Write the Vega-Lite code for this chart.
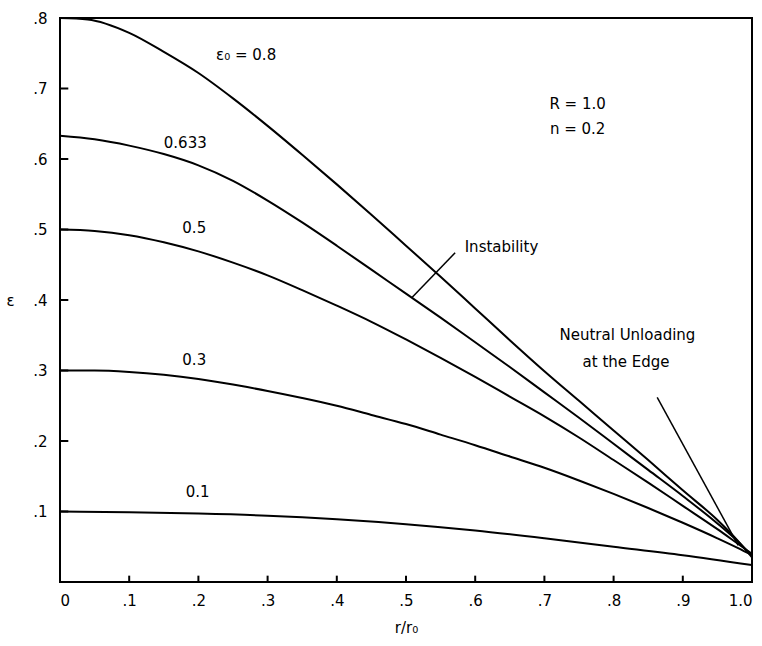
{
  "$schema": "https://vega.github.io/schema/vega-lite/v6.json",
  "width": 692,
  "height": 564,
  "autosize": {"type": "none"},
  "padding": {"left": 60, "top": 18, "right": 10, "bottom": 64},
  "background": "white",
  "config": {
    "view": {"stroke": "black", "strokeWidth": 2},
    "font": "DejaVu Sans",
    "axis": {"grid": false, "domain": false, "ticks": false, "labelColor": "black", "titleColor": "black", "labelFont": "DejaVu Sans", "titleFont": "DejaVu Sans", "labelFontSize": 15, "titleFontSize": 15, "titleFontWeight": "normal"}
  },
  "datasets": {
    "curves": [
      {"curve": "0.8", "x": 0, "y": 0.8}, {"curve": "0.8", "x": 0.04, "y": 0.798}, {"curve": "0.8", "x": 0.1, "y": 0.779}, {"curve": "0.8", "x": 0.15, "y": 0.752}, {"curve": "0.8", "x": 0.2, "y": 0.722}, {"curve": "0.8", "x": 0.25, "y": 0.686}, {"curve": "0.8", "x": 0.3, "y": 0.647}, {"curve": "0.8", "x": 0.35, "y": 0.606}, {"curve": "0.8", "x": 0.4, "y": 0.564}, {"curve": "0.8", "x": 0.45, "y": 0.521}, {"curve": "0.8", "x": 0.5, "y": 0.477}, {"curve": "0.8", "x": 0.55, "y": 0.433}, {"curve": "0.8", "x": 0.6, "y": 0.388}, {"curve": "0.8", "x": 0.65, "y": 0.343}, {"curve": "0.8", "x": 0.7, "y": 0.299}, {"curve": "0.8", "x": 0.75, "y": 0.257}, {"curve": "0.8", "x": 0.8, "y": 0.215}, {"curve": "0.8", "x": 0.85, "y": 0.173}, {"curve": "0.8", "x": 0.9, "y": 0.13}, {"curve": "0.8", "x": 0.95, "y": 0.088}, {"curve": "0.8", "x": 0.98, "y": 0.058}, {"curve": "0.8", "x": 1.0, "y": 0.035},
      {"curve": "0.633", "x": 0, "y": 0.633}, {"curve": "0.633", "x": 0.05, "y": 0.628}, {"curve": "0.633", "x": 0.1, "y": 0.619}, {"curve": "0.633", "x": 0.15, "y": 0.607}, {"curve": "0.633", "x": 0.2, "y": 0.591}, {"curve": "0.633", "x": 0.25, "y": 0.569}, {"curve": "0.633", "x": 0.3, "y": 0.541}, {"curve": "0.633", "x": 0.35, "y": 0.51}, {"curve": "0.633", "x": 0.4, "y": 0.477}, {"curve": "0.633", "x": 0.45, "y": 0.443}, {"curve": "0.633", "x": 0.5, "y": 0.409}, {"curve": "0.633", "x": 0.55, "y": 0.375}, {"curve": "0.633", "x": 0.6, "y": 0.34}, {"curve": "0.633", "x": 0.65, "y": 0.305}, {"curve": "0.633", "x": 0.7, "y": 0.269}, {"curve": "0.633", "x": 0.75, "y": 0.233}, {"curve": "0.633", "x": 0.8, "y": 0.196}, {"curve": "0.633", "x": 0.85, "y": 0.159}, {"curve": "0.633", "x": 0.9, "y": 0.122}, {"curve": "0.633", "x": 0.95, "y": 0.083}, {"curve": "0.633", "x": 0.98, "y": 0.057}, {"curve": "0.633", "x": 1.0, "y": 0.037},
      {"curve": "0.5", "x": 0, "y": 0.5}, {"curve": "0.5", "x": 0.05, "y": 0.498}, {"curve": "0.5", "x": 0.1, "y": 0.492}, {"curve": "0.5", "x": 0.15, "y": 0.482}, {"curve": "0.5", "x": 0.2, "y": 0.469}, {"curve": "0.5", "x": 0.25, "y": 0.453}, {"curve": "0.5", "x": 0.3, "y": 0.435}, {"curve": "0.5", "x": 0.35, "y": 0.414}, {"curve": "0.5", "x": 0.4, "y": 0.392}, {"curve": "0.5", "x": 0.45, "y": 0.369}, {"curve": "0.5", "x": 0.5, "y": 0.344}, {"curve": "0.5", "x": 0.55, "y": 0.318}, {"curve": "0.5", "x": 0.6, "y": 0.291}, {"curve": "0.5", "x": 0.65, "y": 0.263}, {"curve": "0.5", "x": 0.7, "y": 0.235}, {"curve": "0.5", "x": 0.75, "y": 0.205}, {"curve": "0.5", "x": 0.8, "y": 0.173}, {"curve": "0.5", "x": 0.85, "y": 0.141}, {"curve": "0.5", "x": 0.9, "y": 0.108}, {"curve": "0.5", "x": 0.95, "y": 0.075}, {"curve": "0.5", "x": 0.98, "y": 0.054}, {"curve": "0.5", "x": 1.0, "y": 0.04},
      {"curve": "0.3", "x": 0, "y": 0.3}, {"curve": "0.3", "x": 0.05, "y": 0.3}, {"curve": "0.3", "x": 0.1, "y": 0.298}, {"curve": "0.3", "x": 0.15, "y": 0.294}, {"curve": "0.3", "x": 0.2, "y": 0.288}, {"curve": "0.3", "x": 0.25, "y": 0.28}, {"curve": "0.3", "x": 0.3, "y": 0.271}, {"curve": "0.3", "x": 0.35, "y": 0.261}, {"curve": "0.3", "x": 0.4, "y": 0.25}, {"curve": "0.3", "x": 0.45, "y": 0.237}, {"curve": "0.3", "x": 0.5, "y": 0.224}, {"curve": "0.3", "x": 0.55, "y": 0.209}, {"curve": "0.3", "x": 0.6, "y": 0.194}, {"curve": "0.3", "x": 0.65, "y": 0.178}, {"curve": "0.3", "x": 0.7, "y": 0.162}, {"curve": "0.3", "x": 0.75, "y": 0.144}, {"curve": "0.3", "x": 0.8, "y": 0.125}, {"curve": "0.3", "x": 0.85, "y": 0.105}, {"curve": "0.3", "x": 0.9, "y": 0.084}, {"curve": "0.3", "x": 0.95, "y": 0.062}, {"curve": "0.3", "x": 0.98, "y": 0.048}, {"curve": "0.3", "x": 1.0, "y": 0.038},
      {"curve": "0.1", "x": 0, "y": 0.1}, {"curve": "0.1", "x": 0.1, "y": 0.099}, {"curve": "0.1", "x": 0.2, "y": 0.097}, {"curve": "0.1", "x": 0.3, "y": 0.094}, {"curve": "0.1", "x": 0.4, "y": 0.089}, {"curve": "0.1", "x": 0.5, "y": 0.082}, {"curve": "0.1", "x": 0.6, "y": 0.073}, {"curve": "0.1", "x": 0.7, "y": 0.062}, {"curve": "0.1", "x": 0.8, "y": 0.05}, {"curve": "0.1", "x": 0.9, "y": 0.038}, {"curve": "0.1", "x": 1.0, "y": 0.024}
    ],
    "pointers": [
      {"name": "Instability", "x": 0.509, "y": 0.404}, {"name": "Instability", "x": 0.571, "y": 0.467},
      {"name": "Neutral", "x": 0.863, "y": 0.262}, {"name": "Neutral", "x": 0.98, "y": 0.052}
    ],
    "xticks": [{"x": 0.1}, {"x": 0.2}, {"x": 0.3}, {"x": 0.4}, {"x": 0.5}, {"x": 0.6}, {"x": 0.7}, {"x": 0.8}, {"x": 0.9}, {"x": 1.0}],
    "yticks": [{"y": 0.1}, {"y": 0.2}, {"y": 0.3}, {"y": 0.4}, {"y": 0.5}, {"y": 0.6}, {"y": 0.7}, {"y": 0.8}],
    "labels": [
      {"text": "ε₀ = 0.8", "x": 0.269, "y": 0.748},
      {"text": "0.633", "x": 0.181, "y": 0.623},
      {"text": "0.5", "x": 0.194, "y": 0.502},
      {"text": "0.3", "x": 0.194, "y": 0.315},
      {"text": "0.1", "x": 0.199, "y": 0.128},
      {"text": "Instability", "x": 0.638, "y": 0.475},
      {"text": "R = 1.0", "x": 0.748, "y": 0.678},
      {"text": "n = 0.2", "x": 0.748, "y": 0.643},
      {"text": "Neutral Unloading", "x": 0.82, "y": 0.35},
      {"text": "at the Edge", "x": 0.818, "y": 0.312}
    ]
  },
  "layer": [
    {
      "data": {"name": "curves"},
      "mark": {"type": "line", "color": "black", "strokeWidth": 2, "interpolate": "monotone"},
      "encoding": {
        "x": {"field": "x", "type": "quantitative", "scale": {"domain": [0, 1], "nice": false},
          "axis": {"title": "r/r₀", "values": [0, 0.1, 0.2, 0.3, 0.4, 0.5, 0.6, 0.7, 0.8, 0.9, 1.0], "labelPadding": 11, "titlePadding": 12,
            "labelExpr": "datum.value == 0 ? '0' : datum.value == 1 ? '1.0' : replace(format(datum.value, '.1f'), '0.', '.')"}},
        "y": {"field": "y", "type": "quantitative", "scale": {"domain": [0, 0.8], "nice": false},
          "axis": {"title": "ε", "titleAngle": 0, "titleX": -50, "titleY": 282, "titleAlign": "center", "titleBaseline": "middle",
            "values": [0.1, 0.2, 0.3, 0.4, 0.5, 0.6, 0.7, 0.8], "labelPadding": 13,
            "labelExpr": "replace(format(datum.value, '.1f'), '0.', '.')"}},
        "detail": {"field": "curve"}
      }
    },
    {
      "data": {"name": "xticks"},
      "mark": {"type": "rule", "color": "black", "strokeWidth": 2},
      "encoding": {
        "x": {"field": "x", "type": "quantitative"},
        "y": {"datum": 0},
        "y2": {"datum": 0.009}
      }
    },
    {
      "data": {"name": "yticks"},
      "mark": {"type": "rule", "color": "black", "strokeWidth": 2},
      "encoding": {
        "y": {"field": "y", "type": "quantitative"},
        "x": {"datum": 0},
        "x2": {"datum": 0.012}
      }
    },
    {
      "data": {"name": "pointers"},
      "mark": {"type": "line", "color": "black", "strokeWidth": 1.5},
      "encoding": {
        "x": {"field": "x", "type": "quantitative"},
        "y": {"field": "y", "type": "quantitative"},
        "detail": {"field": "name"}
      }
    },
    {
      "data": {"name": "labels"},
      "mark": {"type": "text", "color": "black", "fontSize": 15, "align": "center", "baseline": "middle", "font": "DejaVu Sans"},
      "encoding": {
        "x": {"field": "x", "type": "quantitative"},
        "y": {"field": "y", "type": "quantitative"},
        "text": {"field": "text"}
      }
    }
  ]
}
